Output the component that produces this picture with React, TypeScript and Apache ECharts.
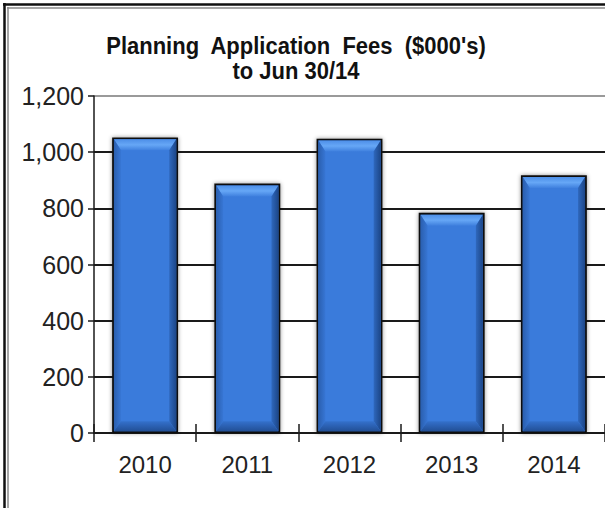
import React, { useEffect, useRef } from "react";
import * as echarts from "echarts";

const categories = ["2010", "2011", "2012", "2013", "2014"];
const fees = [1052, 888, 1048, 784, 918];
const yTicks = [0, 200, 400, 600, 800, 1000, 1200];
const titleLines = ["Planning  Application  Fees  ($000's)", "to Jun 30/14"];

const FONT = "'Liberation Sans', Arial, sans-serif";

export default function App() {
  const ref = useRef<HTMLDivElement>(null);
  useEffect(() => {
    if (!ref.current) return;
    const chart = echarts.init(ref.current, null, { renderer: "svg" });
    const data = fees.map((v, i) => [i, v]);
    const option: any = {
      animation: false,
      backgroundColor: "#ffffff",
      grid: { left: 94, top: 96, width: 514, height: 337, containLabel: false },
      xAxis: [
        {
          type: "category",
          data: categories,
          boundaryGap: true,
          axisLine: { show: true, lineStyle: { color: "#1a1a1a", width: 2 } },
          axisTick: { show: true, length: 9, lineStyle: { color: "#1a1a1a", width: 1.5 } },
          axisLabel: { color: "#222", fontFamily: FONT, fontSize: 24, margin: 19 },
          splitLine: { show: false },
          z: 3,
        },
        {
          type: "category",
          data: categories,
          boundaryGap: true,
          position: "bottom",
          axisLine: { show: false },
          axisTick: { show: true, inside: true, length: 9, lineStyle: { color: "#1a1a1a", width: 1.5 } },
          axisLabel: { show: false },
          splitLine: { show: false },
        },
      ],
      yAxis: {
        type: "value",
        min: yTicks[0],
        max: yTicks[yTicks.length - 1],
        interval: 200,
        axisLine: { show: true, lineStyle: { color: "#1a1a1a", width: 1.5 } },
        axisTick: { show: true, length: 6, lineStyle: { color: "#1a1a1a", width: 1.5 } },
        axisLabel: {
          color: "#222",
          fontFamily: FONT,
          fontSize: 25,
          margin: 10,
          formatter: (v: number) => v.toLocaleString("en-US"),
        },
        splitLine: {
          show: true,
          lineStyle: {
            color: ["#1a1a1a", "#1a1a1a", "#1a1a1a", "#1a1a1a", "#1a1a1a", "#1a1a1a", "#9a9a9a"],
            width: 1.8,
          },
        },
      },
      series: [
        {
          type: "custom",
          data,
          encode: { x: 0, y: 1 },
          z: 5,
          renderItem: (params: any, api: any) => {
            const idx = api.value(0);
            const v = api.value(1);
            const top = api.coord([idx, v]);
            const base = api.coord([idx, 0]);
            const bw = api.size([1, 0])[0] * 0.645;
            const x0 = top[0] - bw / 2;
            const x1 = top[0] + bw / 2;
            const y0 = top[1];
            const y1 = base[1];
            const b = 1.8;
            const ix0 = x0 + b, ix1 = x1 - b, iy0 = y0 + b, iy1 = y1 - b;
            const dt = 11;
            const ds = 7;
            const db = 10;
            return {
              type: "group",
              children: [
                {
                  type: "rect",
                  shape: { x: x0, y: y0, width: x1 - x0, height: y1 - y0 },
                  style: {
                    fill: "#111",
                    shadowBlur: 4,
                    shadowColor: "rgba(0,0,0,0.45)",
                  },
                },
                {
                  type: "rect",
                  shape: { x: ix0, y: iy0, width: ix1 - ix0, height: iy1 - iy0 },
                  style: { fill: "#3a7bdb" },
                },
                {
                  type: "polygon",
                  shape: {
                    points: [
                      [ix0, iy0],
                      [ix1, iy0],
                      [ix1 - ds, iy0 + dt],
                      [ix0 + ds, iy0 + dt],
                    ],
                  },
                  style: {
                    fill: new echarts.graphic.LinearGradient(0, 0, 0, 1, [
                      { offset: 0, color: "#4d8fe8" },
                      { offset: 0.5, color: "#66a7f6" },
                      { offset: 1, color: "#3f80de" },
                    ]),
                  },
                },
                {
                  type: "polygon",
                  shape: {
                    points: [
                      [ix1, iy0],
                      [ix1, iy1],
                      [ix1 - ds, iy1 - db],
                      [ix1 - ds, iy0 + dt],
                    ],
                  },
                  style: {
                    fill: new echarts.graphic.LinearGradient(0, 0, 1, 0, [
                      { offset: 0, color: "#2f68bd" },
                      { offset: 1, color: "#1c4688" },
                    ]),
                  },
                },
                {
                  type: "polygon",
                  shape: {
                    points: [
                      [ix0, iy0],
                      [ix0 + ds, iy0 + dt],
                      [ix0 + ds, iy1 - db],
                      [ix0, iy1],
                    ],
                  },
                  style: {
                    fill: new echarts.graphic.LinearGradient(0, 0, 1, 0, [
                      { offset: 0, color: "#2a5faf" },
                      { offset: 1, color: "#3776d4" },
                    ]),
                  },
                },
                {
                  type: "polygon",
                  shape: {
                    points: [
                      [ix0, iy1],
                      [ix0 + ds, iy1 - db],
                      [ix1 - ds, iy1 - db],
                      [ix1, iy1],
                    ],
                  },
                  style: {
                    fill: new echarts.graphic.LinearGradient(0, 0, 0, 1, [
                      { offset: 0, color: "#3471cc" },
                      { offset: 1, color: "#224f96" },
                    ]),
                  },
                },
              ],
            };
          },
        },
      ],
      graphic: [
        {
          type: "text",
          x: 296,
          y: 34,
          scaleY: 1.12,
          style: {
            text: titleLines.join("\n"),
            font: `bold 22px ${FONT}`,
            fill: "#111",
            textAlign: "center",
            textVerticalAlign: "top",
            lineHeight: 21.5,
          },
          z: 10,
        },
        { type: "line", shape: { x1: 4.5, y1: 3, x2: 4.5, y2: 508 }, style: { stroke: "#111", lineWidth: 2.5 }, z: 10 },
        { type: "line", shape: { x1: 8, y1: 7, x2: 8, y2: 508 }, style: { stroke: "#8a8a8a", lineWidth: 1.5 }, z: 10 },
        { type: "line", shape: { x1: 3, y1: 4.5, x2: 605, y2: 4.5 }, style: { stroke: "#111", lineWidth: 2.5 }, z: 10 },
        { type: "line", shape: { x1: 7, y1: 8, x2: 605, y2: 8 }, style: { stroke: "#8a8a8a", lineWidth: 1.5 }, z: 10 },
      ],
    };
    chart.setOption(option);
    return () => chart.dispose();
  }, []);
  return (
    <div
      ref={ref}
      style={{ position: "fixed", left: 0, top: 0, width: 605, height: 508 }}
    />
  );
}
